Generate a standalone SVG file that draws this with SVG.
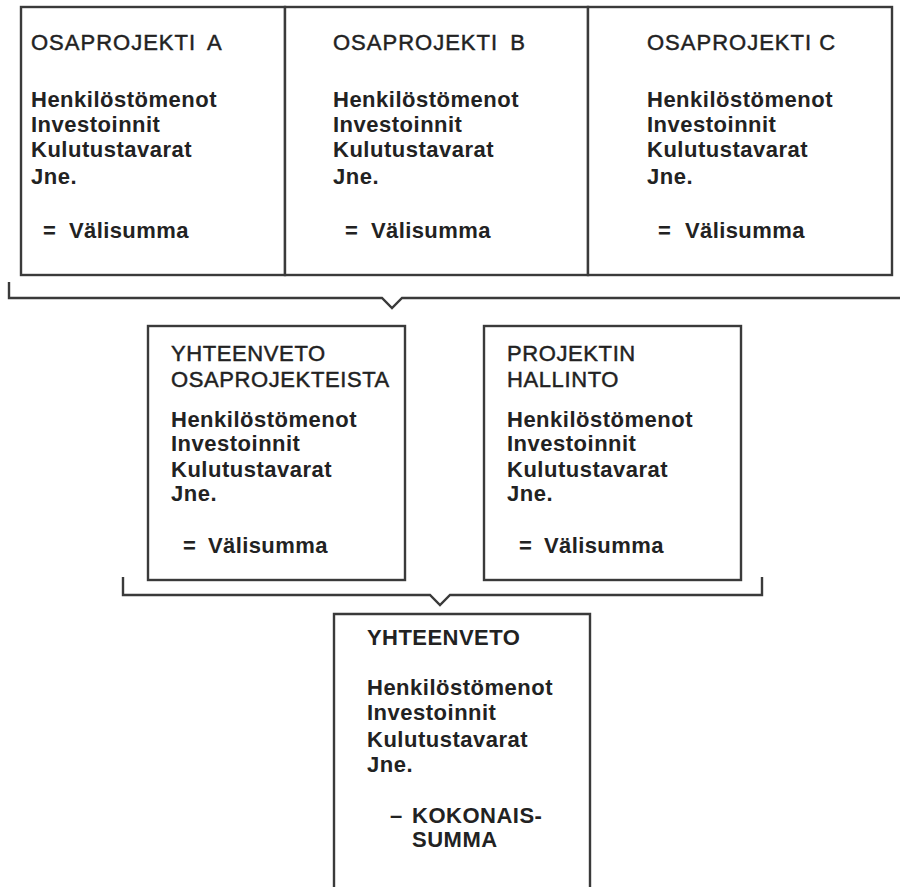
<svg xmlns="http://www.w3.org/2000/svg" width="900" height="887" viewBox="0 0 900 887">
<style>
.box{fill:#fff;stroke:#3a3a3a;stroke-width:2.4}
.ln{fill:none;stroke:#3a3a3a;stroke-width:2.4}
text{font-family:"Liberation Sans",Arial,sans-serif;font-size:22px;fill:#222}
.h{letter-spacing:1px;stroke:#222;stroke-width:0.45}
.hm{letter-spacing:0.6px;stroke:#222;stroke-width:0.45}
.hb{font-weight:bold;letter-spacing:0.45px}
.b{font-weight:bold;letter-spacing:0.5px}
.v{font-weight:bold;letter-spacing:0.4px}
</style>
<rect width="900" height="887" fill="#fff"/>
<g id="osaprojekti-a">
<rect class="box" x="21" y="7" width="264" height="268"/>
<text class="h" x="31" y="50">OSAPROJEKTI <tspan dx="5">A</tspan></text>
<text class="b" x="31" y="107">Henkilöstömenot</text>
<text class="b" x="31" y="132">Investoinnit</text>
<text class="b" x="31" y="157">Kulutustavarat</text>
<text class="b" x="31" y="184">Jne.</text>
<text class="v" y="238"><tspan x="43">=</tspan> <tspan x="69">Välisumma</tspan></text>
</g>
<g id="osaprojekti-b">
<rect class="box" x="285" y="7" width="303" height="268"/>
<text class="h" x="333" y="50">OSAPROJEKTI <tspan dx="5">B</tspan></text>
<text class="b" x="333" y="107">Henkilöstömenot</text>
<text class="b" x="333" y="132">Investoinnit</text>
<text class="b" x="333" y="157">Kulutustavarat</text>
<text class="b" x="333" y="184">Jne.</text>
<text class="v" y="238"><tspan x="345">=</tspan> <tspan x="371">Välisumma</tspan></text>
</g>
<g id="osaprojekti-c">
<rect class="box" x="588" y="7" width="304" height="268"/>
<text class="h" x="647" y="50">OSAPROJEKTI C</text>
<text class="b" x="647" y="107">Henkilöstömenot</text>
<text class="b" x="647" y="132">Investoinnit</text>
<text class="b" x="647" y="157">Kulutustavarat</text>
<text class="b" x="647" y="184">Jne.</text>
<text class="v" y="238"><tspan x="658">=</tspan> <tspan x="685">Välisumma</tspan></text>
</g>
<g id="yhteenveto-osaprojekteista">
<rect class="box" x="148" y="326" width="257" height="254"/>
<text class="hm" x="171" y="361">YHTEENVETO</text>
<text class="hm" x="171" y="387">OSAPROJEKTEISTA</text>
<text class="b" x="171" y="427">Henkilöstömenot</text>
<text class="b" x="171" y="451">Investoinnit</text>
<text class="b" x="171" y="477">Kulutustavarat</text>
<text class="b" x="171" y="501">Jne.</text>
<text class="v" y="553"><tspan x="183">=</tspan> <tspan x="208">Välisumma</tspan></text>
</g>
<g id="projektin-hallinto">
<rect class="box" x="484" y="326" width="257" height="254"/>
<text class="hm" x="507" y="361">PROJEKTIN</text>
<text class="hm" x="507" y="387">HALLINTO</text>
<text class="b" x="507" y="427">Henkilöstömenot</text>
<text class="b" x="507" y="451">Investoinnit</text>
<text class="b" x="507" y="477">Kulutustavarat</text>
<text class="b" x="507" y="501">Jne.</text>
<text class="v" y="553"><tspan x="519">=</tspan> <tspan x="544">Välisumma</tspan></text>
</g>
<g id="yhteenveto">
<path class="box" d="M334,890 V614 H590 V890"/>
<text class="hb" x="367" y="645">YHTEENVETO</text>
<text class="b" x="367" y="695">Henkilöstömenot</text>
<text class="b" x="367" y="720">Investoinnit</text>
<text class="b" x="367" y="747">Kulutustavarat</text>
<text class="b" x="367" y="772">Jne.</text>
<text class="b" y="823"><tspan x="390">–</tspan> <tspan x="412">KOKONAIS-</tspan></text>
<text class="b" x="412" y="847">SUMMA</text>
</g>
<g id="connectors">
<path class="ln" d="M9,282 V298 H382 L392,308 L402,298 H900"/>
<path class="ln" d="M123,577 V595 H430 L440,605 L450,595 H762 V577"/>
</g>
</svg>
